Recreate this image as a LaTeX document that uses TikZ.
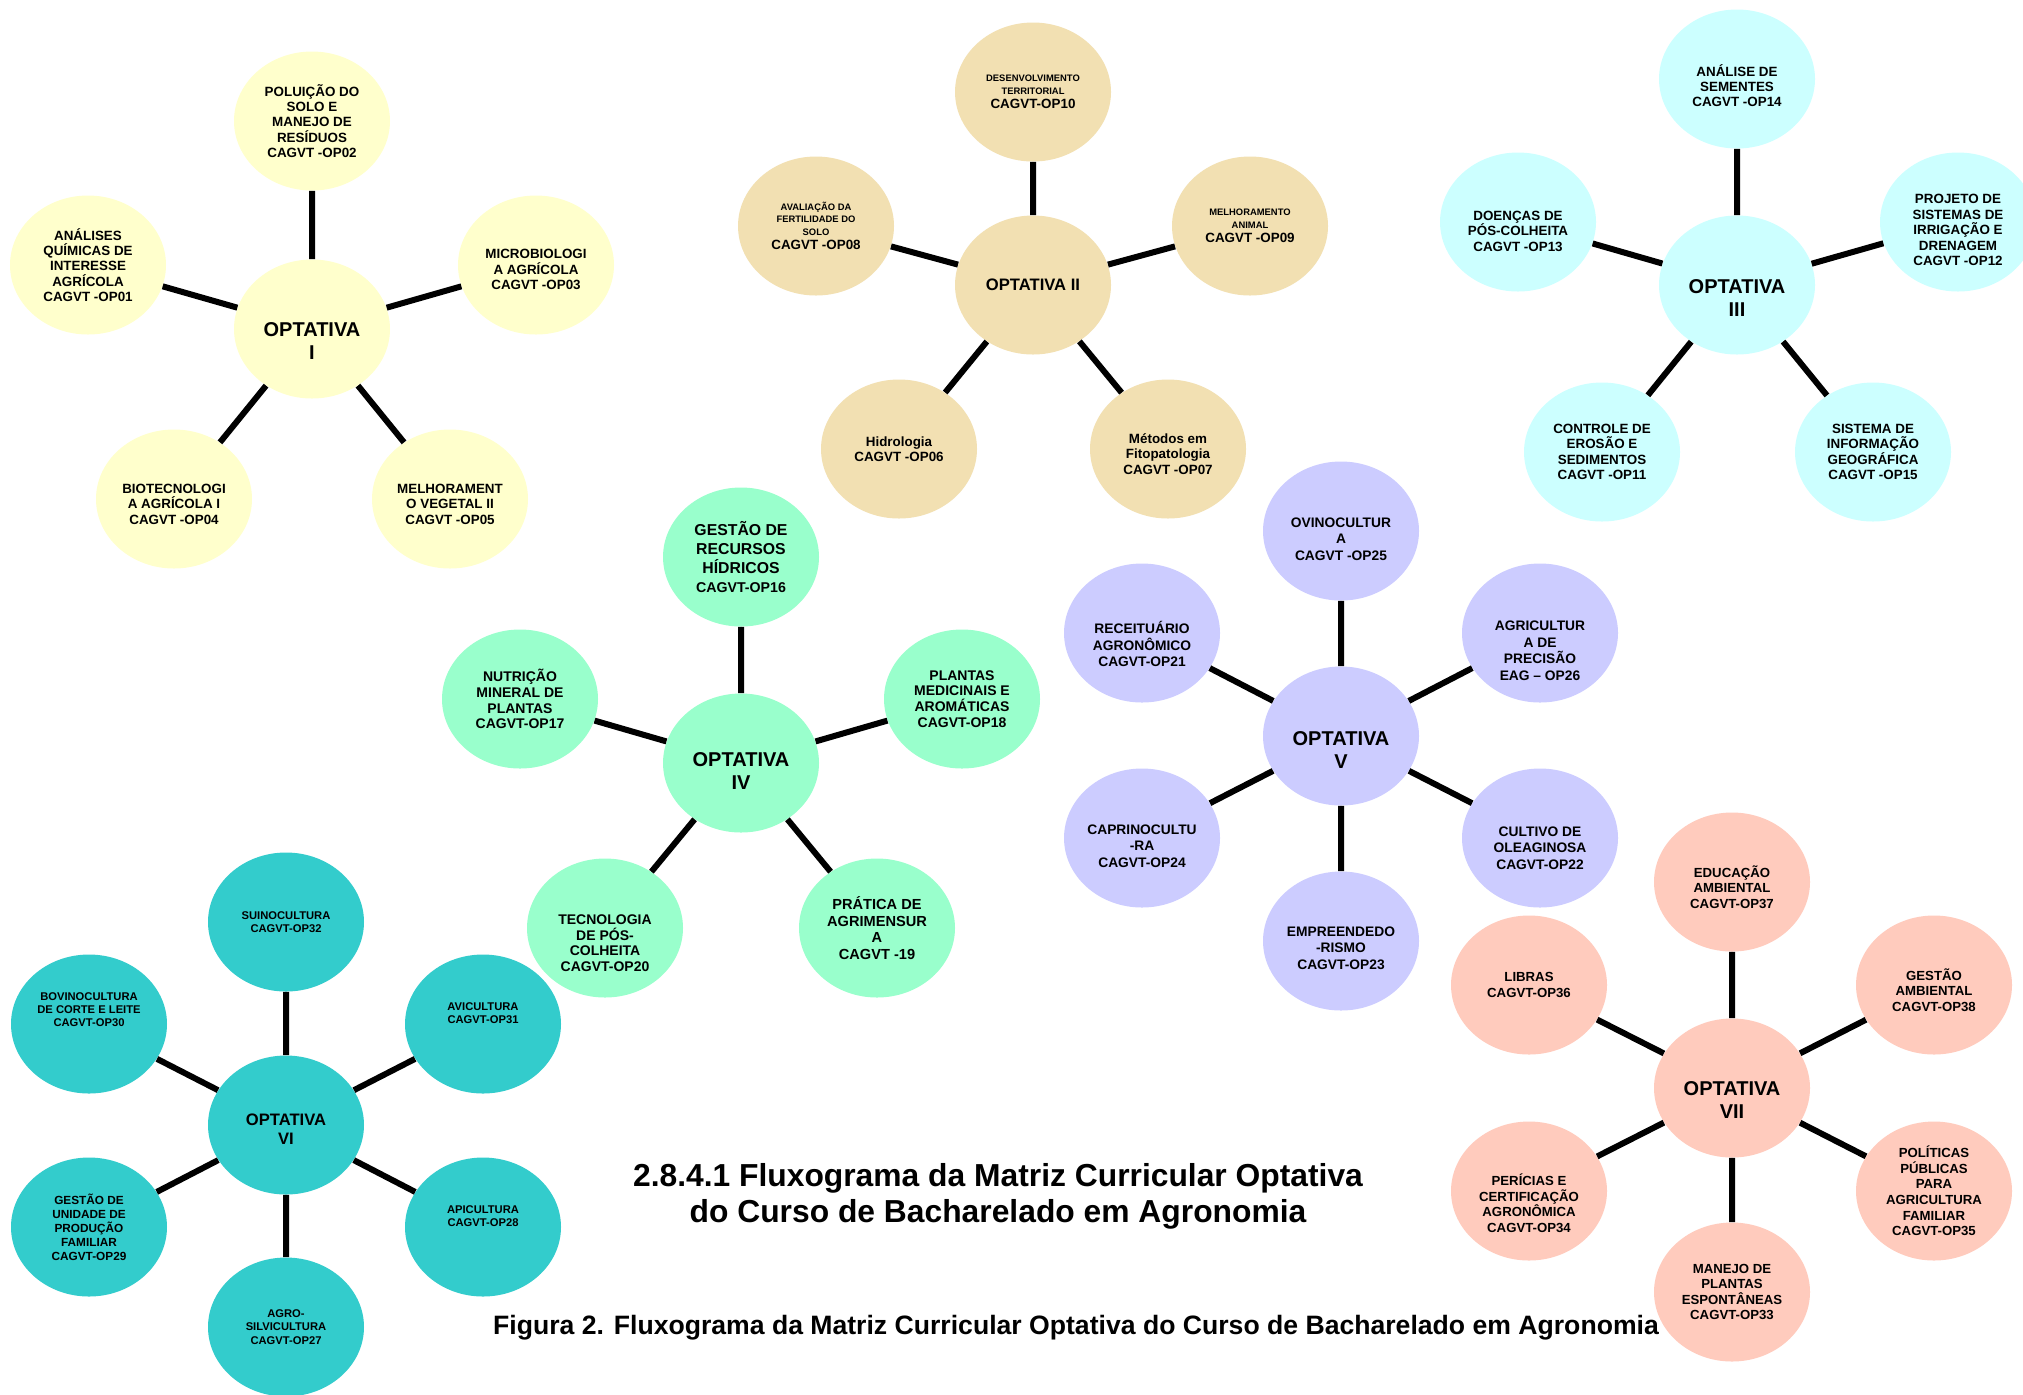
\documentclass[tikz,border=0pt]{standalone}
\usepackage{fontspec}
\setmainfont{Liberation Sans}
\usepackage{tikz}
\usetikzlibrary{shapes.geometric}
\definecolor{cI}{HTML}{FFFFCC}
\definecolor{cII}{RGB}{242,224,178}
\definecolor{cIII}{HTML}{CCFFFF}
\definecolor{cIV}{HTML}{99FFCC}
\definecolor{cV}{HTML}{CCCCFF}
\definecolor{cVI}{HTML}{33CCCC}
\definecolor{cVII}{RGB}{255,203,189}
\newcommand\desce[1]{\rule{0pt}{#1}}

\begin{document}
\begin{tikzpicture}[x=0.5pt,y=-0.5pt,
  disc/.style={ellipse,minimum width=78pt,minimum height=69.5pt,inner sep=0pt,align=center,font=\bfseries\fontsize{6.7}{7.7}\selectfont},
  hub/.style={font=\bfseries\fontsize{10}{11.5}\selectfont},
  link/.style={line width=3pt},
  amarelo/.style={disc,fill=cI},
  bege/.style={disc,fill=cII},
  ciano/.style={disc,fill=cIII},
  verde/.style={disc,fill=cIV,font=\bfseries\fontsize{7}{7.9}\selectfont},
  lilas/.style={disc,fill=cV,font=\bfseries\fontsize{6.9}{8.2}\selectfont},
  turquesa/.style={disc,fill=cVI,font=\bfseries\fontsize{5.6}{6.6}\selectfont},
  salmao/.style={disc,fill=cVII,font=\bfseries\fontsize{6.6}{7.8}\selectfont}]
\path[use as bounding box,fill=white] (0,0) rectangle (2023,1394);

% optativa I
\node[amarelo,hub] (opt1) at (312,329) {\desce{19.3pt}OPTATIVA\\I};
\node[amarelo] (op02) at (312,121) {POLUIÇÃO DO\\SOLO E\\MANEJO DE\\RESÍDUOS\\CAGVT -OP02};
\node[amarelo] (op01) at (88,265) {ANÁLISES\\QUÍMICAS DE\\INTERESSE\\AGRÍCOLA\\CAGVT -OP01};
\node[amarelo] (op03) at (536,265) {\desce{9.3pt}MICROBIOLOGI\\A AGRÍCOLA\\CAGVT -OP03};
\node[amarelo] (op04) at (174,499) {\desce{9.8pt}BIOTECNOLOGI\\A AGRÍCOLA I\\CAGVT -OP04};
\node[amarelo] (op05) at (450,499) {\desce{9.8pt}MELHORAMENT\\O VEGETAL II\\CAGVT -OP05};
\draw[link] (opt1) -- (op02) (opt1) -- (op01) (opt1) -- (op03) (opt1) -- (op04) (opt1) -- (op05);

% optativa II
\node[bege,hub,font=\bfseries\fontsize{8.3}{9.5}\selectfont] (opt2) at (1033,285) {OPTATIVA II};
\node[bege,font=\bfseries\fontsize{4.7}{6.2}\selectfont] (op10) at (1033,92) {DESENVOLVIMENTO\\TERRITORIAL\\[1pt]\fontsize{6.7}{7.7}\selectfont CAGVT-OP10};
\node[bege,font=\bfseries\fontsize{4.7}{6.2}\selectfont] (op08) at (816,226) {AVALIAÇÃO DA\\FERTILIDADE DO\\SOLO\\[1pt]\fontsize{6.7}{7.7}\selectfont CAGVT -OP08};
\node[bege,font=\bfseries\fontsize{4.7}{6.2}\selectfont] (op09) at (1250,226) {MELHORAMENTO\\ANIMAL\\[1pt]\fontsize{6.7}{7.7}\selectfont CAGVT -OP09};
\node[bege] (op06) at (899,449) {Hidrologia\\CAGVT -OP06};
\node[bege] (op07) at (1168,449) {\desce{10pt}Métodos em\\Fitopatologia\\CAGVT -OP07};
\draw[link] (opt2) -- (op10) (opt2) -- (op08) (opt2) -- (op09) (opt2) -- (op06) (opt2) -- (op07);

% optativa III
\node[ciano,hub] (opt3) at (1737,285) {\desce{20.3pt}OPTATIVA\\III};
\node[ciano] (op14) at (1737,79) {\desce{12.6pt}ANÁLISE DE\\SEMENTES\\CAGVT -OP14};
\node[ciano] (op13) at (1518,222) {\desce{13.8pt}DOENÇAS DE\\PÓS-COLHEITA\\CAGVT -OP13};
\node[ciano] (op12) at (1958,222) {\desce{12.8pt}PROJETO DE\\SISTEMAS DE\\IRRIGAÇÃO E\\DRENAGEM\\CAGVT -OP12};
\node[ciano] (op11) at (1602,452) {CONTROLE DE\\EROSÃO E\\SEDIMENTOS\\CAGVT -OP11};
\node[ciano] (op15) at (1873,452) {SISTEMA DE\\INFORMAÇÃO\\GEOGRÁFICA\\CAGVT -OP15};
\draw[link] (opt3) -- (op14) (opt3) -- (op13) (opt3) -- (op12) (opt3) -- (op11) (opt3) -- (op15);

% optativa IV
\node[verde,hub] (opt4) at (741,763) {\desce{15.3pt}OPTATIVA\\IV};
\node[verde,font=\bfseries\fontsize{7.9}{9.6}\selectfont] (op16) at (741,557) {GESTÃO DE\\RECURSOS\\HÍDRICOS\\\fontsize{7.1}{8}\selectfont CAGVT-OP16};
\node[verde] (op17) at (520,699) {NUTRIÇÃO\\MINERAL DE\\PLANTAS\\CAGVT-OP17};
\node[verde] (op18) at (962,699) {PLANTAS\\MEDICINAIS E\\AROMÁTICAS\\CAGVT-OP18};
\node[verde] (op20) at (605,928) {\desce{20pt}TECNOLOGIA\\DE PÓS-\\COLHEITA\\CAGVT-OP20};
\node[verde,font=\bfseries\fontsize{7.3}{8.4}\selectfont] (op19) at (877,928) {PRÁTICA DE\\AGRIMENSUR\\A\\CAGVT -19};
\draw[link] (opt4) -- (op16) (opt4) -- (op17) (opt4) -- (op18) (opt4) -- (op20) (opt4) -- (op19);

% optativa V
\node[lilas,hub] (opt5) at (1341,736) {\desce{21.3pt}OPTATIVA\\V};
\node[lilas] (op25) at (1341,531) {\desce{12.9pt}OVINOCULTUR\\A\\CAGVT -OP25};
\node[lilas] (op21) at (1142,633) {\desce{17.2pt}RECEITUÁRIO\\AGRONÔMICO\\CAGVT-OP21};
\node[lilas] (op26) at (1540,633) {\desce{22.5pt}AGRICULTUR\\A DE\\PRECISÃO\\EAG – OP26};
\node[lilas] (op24) at (1142,838) {\desce{12.9pt}CAPRINOCULTU\\-RA\\CAGVT-OP24};
\node[lilas] (op22) at (1540,838) {\desce{14.9pt}CULTIVO DE\\OLEAGINOSA\\CAGVT-OP22};
\node[lilas] (op23) at (1341,941) {\desce{11.9pt}EMPREENDEDO\\-RISMO\\CAGVT-OP23};
\draw[link] (opt5) -- (op25) (opt5) -- (op21) (opt5) -- (op26) (opt5) -- (op24) (opt5) -- (op22) (opt5) -- (op23);

% optativa VI
\node[turquesa,hub,font=\bfseries\fontsize{8.3}{9.5}\selectfont] (opt6) at (286,1125) {\desce{10pt}OPTATIVA\\VI};
\node[turquesa] (op32) at (286,922) {SUINOCULTURA\\CAGVT-OP32};
\node[turquesa] (op30) at (89,1024) {BOVINOCULTURA\\DE CORTE E LEITE\\CAGVT-OP30\\[8pt]};
\node[turquesa] (op31) at (483,1024) {AVICULTURA\\CAGVT-OP31\\[4pt]};
\node[turquesa,font=\bfseries\fontsize{5.9}{7}\selectfont] (op29) at (89,1227) {GESTÃO DE\\UNIDADE DE\\PRODUÇÃO\\FAMILIAR\\CAGVT-OP29};
\node[turquesa] (op28) at (483,1227) {APICULTURA\\CAGVT-OP28\\[4pt]};
\node[turquesa] (op27) at (286,1327) {AGRO-\\SILVICULTURA\\CAGVT-OP27};
\draw[link] (opt6) -- (op32) (opt6) -- (op30) (opt6) -- (op31) (opt6) -- (op29) (opt6) -- (op28) (opt6) -- (op27);

% optativa VII
\node[salmao,hub] (opt7) at (1732,1088) {\desce{19.3pt}OPTATIVA\\VII};
\node[salmao] (op37) at (1732,882) {\desce{11pt}EDUCAÇÃO\\AMBIENTAL\\CAGVT-OP37};
\node[salmao] (op36) at (1529,985) {LIBRAS\\CAGVT-OP36};
\node[salmao] (op38) at (1934,985) {\desce{11pt}GESTÃO\\AMBIENTAL\\CAGVT-OP38};
\node[salmao] (op34) at (1529,1191) {\desce{18pt}PERÍCIAS E\\CERTIFICAÇÃO\\AGRONÔMICA\\CAGVT-OP34};
\node[salmao] (op35) at (1934,1191) {POLÍTICAS\\PÚBLICAS\\PARA\\AGRICULTURA\\FAMILIAR\\CAGVT-OP35};
\node[salmao] (op33) at (1732,1292) {MANEJO DE\\PLANTAS\\ESPONTÂNEAS\\CAGVT-OP33};
\draw[link] (opt7) -- (op37) (opt7) -- (op36) (opt7) -- (op38) (opt7) -- (op34) (opt7) -- (op35) (opt7) -- (op33);

\node[align=center,font=\bfseries\fontsize{15.9}{18}\selectfont] (titulo) at (998,1196) {2.8.4.1 Fluxograma da Matriz Curricular Optativa\\do Curso de Bacharelado em Agronomia};
\node[font=\bfseries\fontsize{13.3}{15}\selectfont] (legenda) at (1076,1328) {Figura 2. Fluxograma da Matriz Curricular Optativa do Curso de Bacharelado em Agronomia};
\end{tikzpicture}
\end{document}
